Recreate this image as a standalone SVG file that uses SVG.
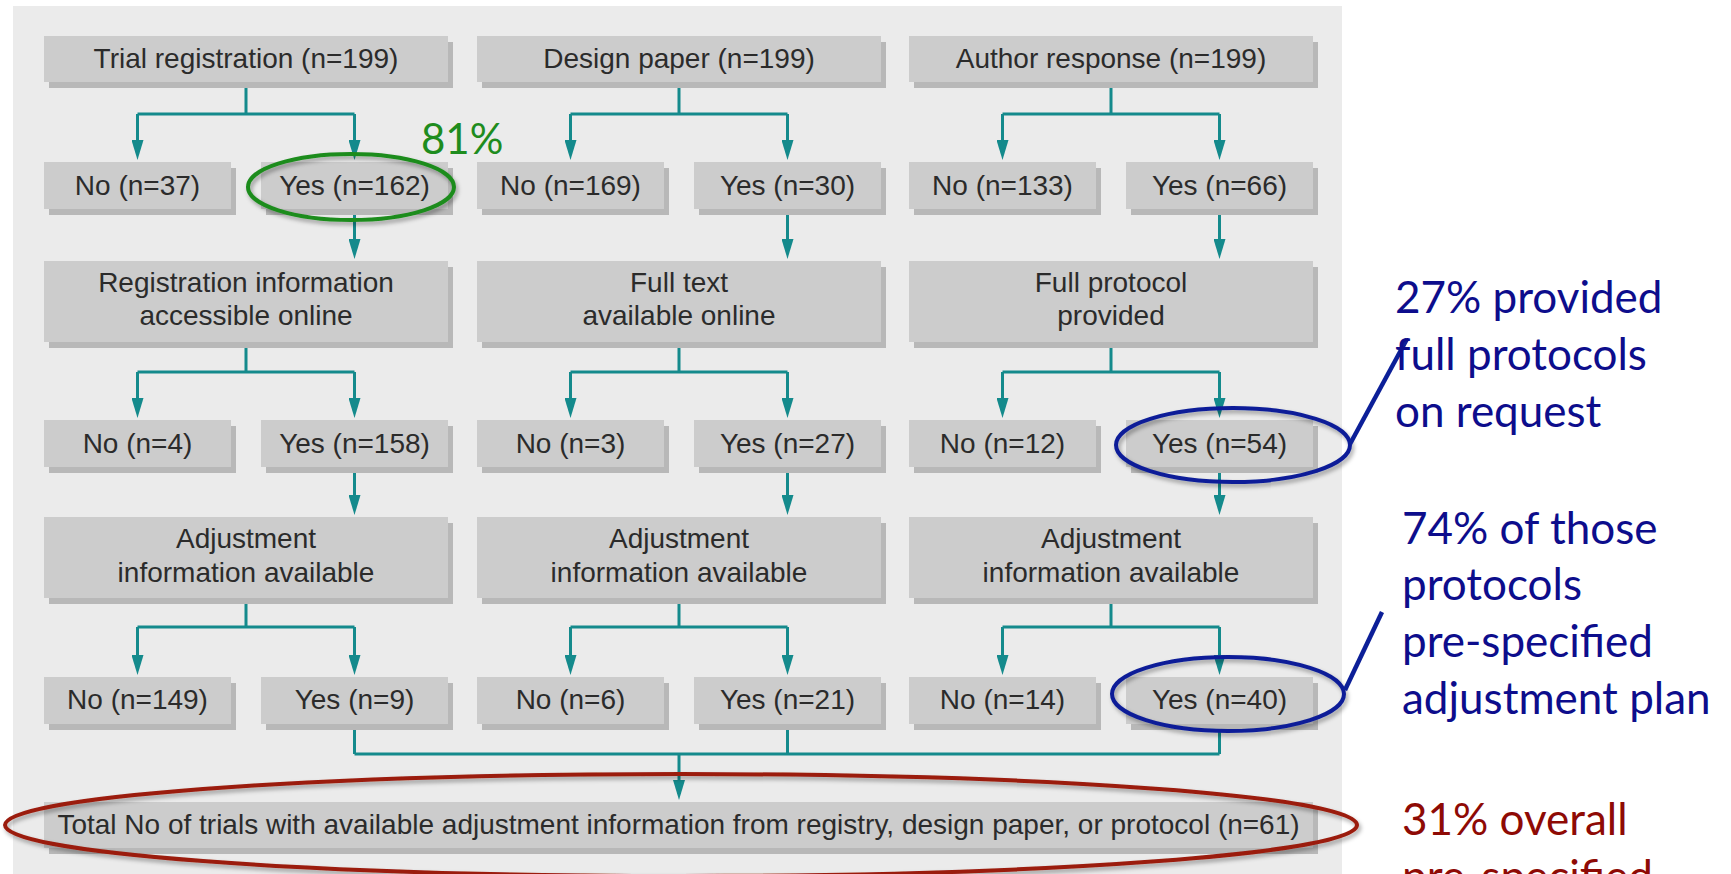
<svg xmlns="http://www.w3.org/2000/svg" width="1731" height="874" viewBox="0 0 1731 874">
  <defs>
    <style>
      .shadow { fill: #b8b8b8; }
      .box { fill: #cccccc; }
      .lbl { font-family: "Liberation Sans", Arial, sans-serif; font-size: 28px; fill: #2b2b2b; text-anchor: middle; }
      .conn { fill: none; stroke: #148a8c; stroke-width: 3; }
      .arrow { marker-end: url(#head); }
      .ring { fill: none; stroke-width: 4; filter: url(#soft); }
      .note { font-family: Lato, "Open Sans", sans-serif; font-size: 44px; }
      .blue { fill: #0d0d8c; }
      .red { fill: #8e0a05; }
    </style>
    <marker id="head" viewBox="0 0 20 12" refX="14" refY="6" markerWidth="20" markerHeight="12" markerUnits="userSpaceOnUse" orient="auto">
      <path d="M0,0 L20,6 L0,12 z" fill="#148a8c"/>
    </marker>
    <filter id="soft" x="-10%" y="-30%" width="120%" height="160%">
      <feDropShadow dx="2" dy="3" stdDeviation="2" flood-color="#000" flood-opacity="0.35"/>
    </filter>
  </defs>

  <!-- page -->
  <rect x="0" y="0" width="1731" height="874" fill="#ffffff"/>
  <rect x="13" y="6" width="1329" height="868" fill="#ebebeb"/>

  <!-- connectors -->
  <g id="connectors">
    <!-- column 1 -->
    <path class="conn" d="M246,84 V114 M137.5,114 H354.5"/>
    <path class="conn arrow" d="M137.5,114 V154"/>
    <path class="conn arrow" d="M354.5,114 V154"/>
    <path class="conn arrow" d="M354.5,211 V253"/>
    <path class="conn" d="M246,344 V372 M137.5,372 H354.5"/>
    <path class="conn arrow" d="M137.5,372 V412"/>
    <path class="conn arrow" d="M354.5,372 V412"/>
    <path class="conn arrow" d="M354.5,469 V509"/>
    <path class="conn" d="M246,599 V627 M137.5,627 H354.5"/>
    <path class="conn arrow" d="M137.5,627 V669"/>
    <path class="conn arrow" d="M354.5,627 V669"/>
    <!-- column 2 -->
    <path class="conn" d="M679,84 V114 M570.5,114 H787.5"/>
    <path class="conn arrow" d="M570.5,114 V154"/>
    <path class="conn arrow" d="M787.5,114 V154"/>
    <path class="conn arrow" d="M787.5,211 V253"/>
    <path class="conn" d="M679,344 V372 M570.5,372 H787.5"/>
    <path class="conn arrow" d="M570.5,372 V412"/>
    <path class="conn arrow" d="M787.5,372 V412"/>
    <path class="conn arrow" d="M787.5,469 V509"/>
    <path class="conn" d="M679,599 V627 M570.5,627 H787.5"/>
    <path class="conn arrow" d="M570.5,627 V669"/>
    <path class="conn arrow" d="M787.5,627 V669"/>
    <!-- column 3 -->
    <path class="conn" d="M1111,84 V114 M1002.5,114 H1219.5"/>
    <path class="conn arrow" d="M1002.5,114 V154"/>
    <path class="conn arrow" d="M1219.5,114 V154"/>
    <path class="conn arrow" d="M1219.5,211 V253"/>
    <path class="conn" d="M1111,344 V372 M1002.5,372 H1219.5"/>
    <path class="conn arrow" d="M1002.5,372 V412"/>
    <path class="conn arrow" d="M1219.5,372 V412"/>
    <path class="conn arrow" d="M1219.5,469 V509"/>
    <path class="conn" d="M1111,599 V627 M1002.5,627 H1219.5"/>
    <path class="conn arrow" d="M1002.5,627 V669"/>
    <path class="conn arrow" d="M1219.5,627 V669"/>
    <!-- merge into total -->
    <path class="conn" d="M354.5,726 V754 M787.5,726 V754 M1219.5,726 V754 M354.5,754 H1219.5"/>
    <path class="conn arrow" d="M679,754 V794"/>
  </g>

  <!-- column 1: trial registration -->
  <g id="trial-registration">
    <rect class="shadow" x="49" y="42" width="404" height="46"/>
    <rect class="box" x="44" y="36" width="404" height="46"/>
    <text class="lbl" x="246" y="68">Trial registration (n=199)</text>
  </g>
  <g id="reg-no">
    <rect class="shadow" x="49" y="168" width="187" height="47"/>
    <rect class="box" x="44" y="162" width="187" height="47"/>
    <text class="lbl" x="137.5" y="195">No (n=37)</text>
  </g>
  <g id="reg-yes">
    <rect class="shadow" x="266" y="168" width="187" height="47"/>
    <rect class="box" x="261" y="162" width="187" height="47"/>
    <text class="lbl" x="354.5" y="195">Yes (n=162)</text>
  </g>
  <g id="reg-online">
    <rect class="shadow" x="49" y="267" width="404" height="81"/>
    <rect class="box" x="44" y="261" width="404" height="81"/>
    <text class="lbl" x="246" y="292">Registration information</text>
    <text class="lbl" x="246" y="325">accessible online</text>
  </g>
  <g id="reg-online-no">
    <rect class="shadow" x="49" y="426" width="187" height="47"/>
    <rect class="box" x="44" y="420" width="187" height="47"/>
    <text class="lbl" x="137.5" y="453">No (n=4)</text>
  </g>
  <g id="reg-online-yes">
    <rect class="shadow" x="266" y="426" width="187" height="47"/>
    <rect class="box" x="261" y="420" width="187" height="47"/>
    <text class="lbl" x="354.5" y="453">Yes (n=158)</text>
  </g>
  <g id="reg-adjust">
    <rect class="shadow" x="49" y="523" width="404" height="81"/>
    <rect class="box" x="44" y="517" width="404" height="81"/>
    <text class="lbl" x="246" y="548">Adjustment</text>
    <text class="lbl" x="246" y="582">information available</text>
  </g>
  <g id="reg-adjust-no">
    <rect class="shadow" x="49" y="683" width="187" height="47"/>
    <rect class="box" x="44" y="677" width="187" height="47"/>
    <text class="lbl" x="137.5" y="709">No (n=149)</text>
  </g>
  <g id="reg-adjust-yes">
    <rect class="shadow" x="266" y="683" width="187" height="47"/>
    <rect class="box" x="261" y="677" width="187" height="47"/>
    <text class="lbl" x="354.5" y="709">Yes (n=9)</text>
  </g>

  <!-- column 2: design paper -->
  <g id="design-paper">
    <rect class="shadow" x="482" y="42" width="404" height="46"/>
    <rect class="box" x="477" y="36" width="404" height="46"/>
    <text class="lbl" x="679" y="68">Design paper (n=199)</text>
  </g>
  <g id="paper-no">
    <rect class="shadow" x="482" y="168" width="187" height="47"/>
    <rect class="box" x="477" y="162" width="187" height="47"/>
    <text class="lbl" x="570.5" y="195">No (n=169)</text>
  </g>
  <g id="paper-yes">
    <rect class="shadow" x="699" y="168" width="187" height="47"/>
    <rect class="box" x="694" y="162" width="187" height="47"/>
    <text class="lbl" x="787.5" y="195">Yes (n=30)</text>
  </g>
  <g id="paper-fulltext">
    <rect class="shadow" x="482" y="267" width="404" height="81"/>
    <rect class="box" x="477" y="261" width="404" height="81"/>
    <text class="lbl" x="679" y="292">Full text</text>
    <text class="lbl" x="679" y="325">available online</text>
  </g>
  <g id="paper-fulltext-no">
    <rect class="shadow" x="482" y="426" width="187" height="47"/>
    <rect class="box" x="477" y="420" width="187" height="47"/>
    <text class="lbl" x="570.5" y="453">No (n=3)</text>
  </g>
  <g id="paper-fulltext-yes">
    <rect class="shadow" x="699" y="426" width="187" height="47"/>
    <rect class="box" x="694" y="420" width="187" height="47"/>
    <text class="lbl" x="787.5" y="453">Yes (n=27)</text>
  </g>
  <g id="paper-adjust">
    <rect class="shadow" x="482" y="523" width="404" height="81"/>
    <rect class="box" x="477" y="517" width="404" height="81"/>
    <text class="lbl" x="679" y="548">Adjustment</text>
    <text class="lbl" x="679" y="582">information available</text>
  </g>
  <g id="paper-adjust-no">
    <rect class="shadow" x="482" y="683" width="187" height="47"/>
    <rect class="box" x="477" y="677" width="187" height="47"/>
    <text class="lbl" x="570.5" y="709">No (n=6)</text>
  </g>
  <g id="paper-adjust-yes">
    <rect class="shadow" x="699" y="683" width="187" height="47"/>
    <rect class="box" x="694" y="677" width="187" height="47"/>
    <text class="lbl" x="787.5" y="709">Yes (n=21)</text>
  </g>

  <!-- column 3: author response -->
  <g id="author-response">
    <rect class="shadow" x="914" y="42" width="404" height="46"/>
    <rect class="box" x="909" y="36" width="404" height="46"/>
    <text class="lbl" x="1111" y="68">Author response (n=199)</text>
  </g>
  <g id="author-no">
    <rect class="shadow" x="914" y="168" width="187" height="47"/>
    <rect class="box" x="909" y="162" width="187" height="47"/>
    <text class="lbl" x="1002.5" y="195">No (n=133)</text>
  </g>
  <g id="author-yes">
    <rect class="shadow" x="1131" y="168" width="187" height="47"/>
    <rect class="box" x="1126" y="162" width="187" height="47"/>
    <text class="lbl" x="1219.5" y="195">Yes (n=66)</text>
  </g>
  <g id="author-protocol">
    <rect class="shadow" x="914" y="267" width="404" height="81"/>
    <rect class="box" x="909" y="261" width="404" height="81"/>
    <text class="lbl" x="1111" y="292">Full protocol</text>
    <text class="lbl" x="1111" y="325">provided</text>
  </g>
  <g id="author-protocol-no">
    <rect class="shadow" x="914" y="426" width="187" height="47"/>
    <rect class="box" x="909" y="420" width="187" height="47"/>
    <text class="lbl" x="1002.5" y="453">No (n=12)</text>
  </g>
  <g id="author-protocol-yes">
    <rect class="shadow" x="1131" y="426" width="187" height="47"/>
    <rect class="box" x="1126" y="420" width="187" height="47"/>
    <text class="lbl" x="1219.5" y="453">Yes (n=54)</text>
  </g>
  <g id="author-adjust">
    <rect class="shadow" x="914" y="523" width="404" height="81"/>
    <rect class="box" x="909" y="517" width="404" height="81"/>
    <text class="lbl" x="1111" y="548">Adjustment</text>
    <text class="lbl" x="1111" y="582">information available</text>
  </g>
  <g id="author-adjust-no">
    <rect class="shadow" x="914" y="683" width="187" height="47"/>
    <rect class="box" x="909" y="677" width="187" height="47"/>
    <text class="lbl" x="1002.5" y="709">No (n=14)</text>
  </g>
  <g id="author-adjust-yes">
    <rect class="shadow" x="1131" y="683" width="187" height="47"/>
    <rect class="box" x="1126" y="677" width="187" height="47"/>
    <text class="lbl" x="1219.5" y="709">Yes (n=40)</text>
  </g>

  <!-- combined total -->
  <g id="total">
    <rect class="shadow" x="49" y="808" width="1269" height="46"/>
    <rect class="box" x="44" y="802" width="1269" height="46"/>
    <text class="lbl" x="678.5" y="834">Total No of trials with available adjustment information from registry, design paper, or protocol (n=61)</text>
  </g>

  <!-- highlight rings and callouts -->
  <g id="highlight-registered">
    <ellipse class="ring" cx="351" cy="187" rx="103" ry="33" stroke="#1e8c1e"/>
    <text x="421" y="154" font-family="Lato, 'Open Sans', sans-serif" font-size="42" fill="#1e8c1e">81%</text>
  </g>
  <g id="highlight-protocols">
    <ellipse class="ring" cx="1233" cy="445" rx="117" ry="37" stroke="#0c1f98"/>
    <line x1="1350" y1="444" x2="1407" y2="339" stroke="#0c1f98" stroke-width="4.5"/>
    <text class="note blue" x="1395" y="313">27% provided</text>
    <text class="note blue" x="1395" y="370">full protocols</text>
    <text class="note blue" x="1395" y="427">on request</text>
  </g>
  <g id="highlight-prespecified">
    <ellipse class="ring" cx="1228" cy="694" rx="116" ry="37" stroke="#0c1f98"/>
    <line x1="1345" y1="690" x2="1382" y2="612" stroke="#0c1f98" stroke-width="4.5"/>
    <text class="note blue" x="1402" y="544">74% of those</text>
    <text class="note blue" x="1402" y="600">protocols</text>
    <text class="note blue" x="1402" y="657">pre-specified</text>
    <text class="note blue" x="1402" y="714">adjustment plan</text>
  </g>
  <g id="highlight-overall">
    <ellipse class="ring" cx="681" cy="825" rx="676" ry="51" stroke="#9b1b0c"/>
    <text class="note red" x="1402" y="835">31% overall</text>
    <text class="note red" x="1402" y="892">pre-specified</text>
  </g>
</svg>
